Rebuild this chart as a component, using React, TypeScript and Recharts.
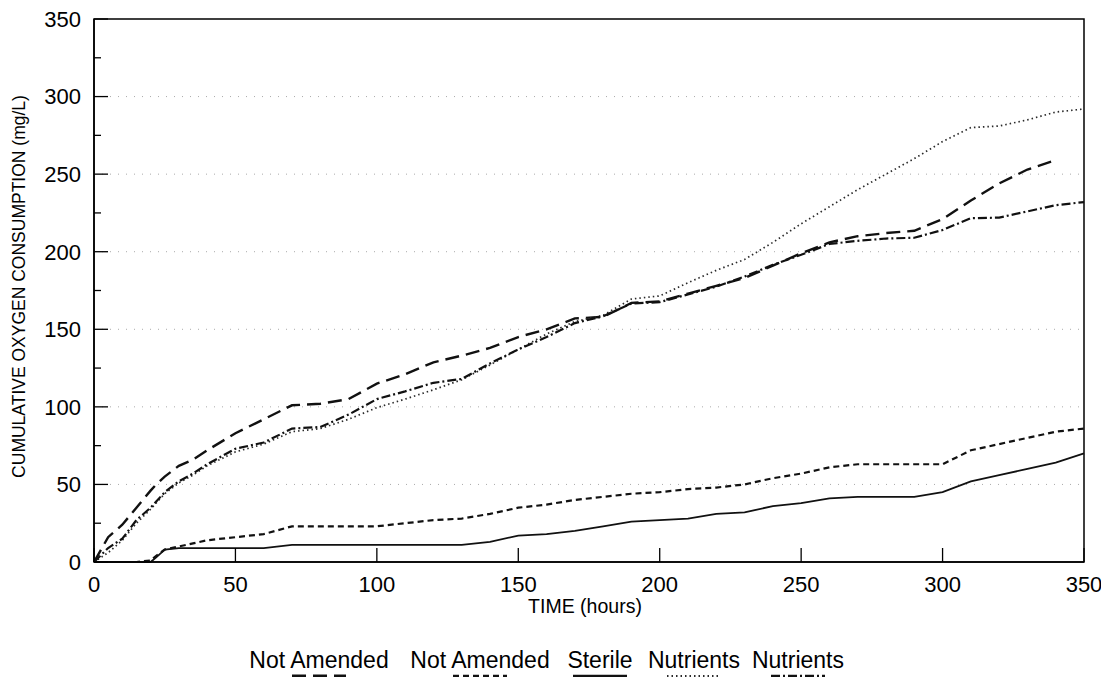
import React from 'react';
import { LineChart, Line, XAxis, YAxis, ReferenceLine, ReferenceArea } from 'recharts';

const times = [0, 5, 10, 15, 20, 22, 25, 30, 35, 40, 50, 60, 70, 80, 90, 100, 110, 120, 130, 140, 150, 160, 170, 180, 190, 200, 210, 220, 230, 240, 250, 260, 270, 280, 290, 300, 310, 320, 330, 340, 350];

const notAmendedA = [0, 16, 24, 35, 46, 50, 55, 62, 66, 72, 83, 92, 101, 102, 105, 115, 121, 128.7, 133, 138, 145, 150, 157, 158, 167, 168, 173, 178, 183, 191, 199, 206, 210, 212, 213.5, 221, 233, 244, 253, 259, null];
const notAmendedB = [0, 0, 0, 0, 1, 4, 8, 10, 12, 14, 16, 18, 23, 23, 23, 23, 25, 27, 28, 31, 35, 37, 40, 42, 44, 45, 47, 48, 50, 54, 57, 61, 63, 63, 63, 63, 72, 76, 80, 84, 86];
const sterile = [0, 0, 0, 0, 0, 3, 8, 9, 9, 9, 9, 9, 11, 11, 11, 11, 11, 11, 11, 13, 17, 18, 20, 23, 26, 27, 28, 31, 32, 36, 38, 41, 42, 42, 42, 45, 52, 56, 60, 64, 70];
const nutrientsA = [0, 6, 14, 25, 34, 38, 44, 51, 56, 62, 71, 76, 84, 86, 92, 99.5, 105, 111, 117.5, 127, 137, 147, 155, 159, 169.5, 171.5, 180, 188, 195, 206, 218, 229, 240, 250, 260, 271, 280, 281, 285, 290, 292];
const nutrientsB = [0, 9, 15, 27, 35, 39, 45, 52, 57, 63, 73, 77, 86, 87, 95, 105, 110, 115.5, 118, 128, 137, 145, 154, 158.4, 166.6, 167.5, 172.5, 177.5, 184, 191.5, 198, 205, 207, 208.5, 209, 214, 221.6, 222, 226, 230, 232];

const xTicks = [0, 50, 100, 150, 200, 250, 300, 350];
const yTicks = [0, 25, 50, 75, 100, 125, 150, 175, 200, 225, 250, 275, 300, 325, 350];
const gridValues = [50, 100, 150, 200, 250, 300];

const legendLabels = ['Not Amended', 'Not Amended', 'Sterile', 'Nutrients', 'Nutrients'];

const data = times.map((t, i) => ({
  t,
  na1: notAmendedA[i],
  na2: notAmendedB[i],
  st: sterile[i],
  nu1: nutrientsA[i],
  nu2: nutrientsB[i],
}));

const FONT = '"Liberation Sans", Arial, Helvetica, sans-serif';

const styles = [
  { key: 'na1', dash: '14 7', width: 2.4, color: '#111' },
  { key: 'na2', dash: '6 4', width: 2.2, color: '#111' },
  { key: 'st', dash: undefined as string | undefined, width: 1.8, color: '#111' },
  { key: 'nu1', dash: '1.5 3', width: 1.7, color: '#2a2a2a' },
  { key: 'nu2', dash: '9 3 2 3', width: 2.2, color: '#111' },
];

const XTick = (props: any) => {
  const { x, y, payload } = props;
  return (
    <g>
      <line x1={x} x2={x} y1={y} y2={y - 14} stroke="#000" strokeWidth={1.3} />
      <text x={x} y={y + 14} dy="0.72em" textAnchor="middle" fontSize={22} fontFamily={FONT} fill="#000">
        {payload.value}
      </text>
    </g>
  );
};

const YTick = (props: any) => {
  const { x, y, payload } = props;
  const major = payload.value % 50 === 0;
  return (
    <g>
      <line x1={x} x2={x + (major ? 14 : 7)} y1={y} y2={y} stroke="#000" strokeWidth={1.3} />
      {major && (
        <text x={x - 13} y={y} dy="0.36em" textAnchor="end" fontSize={22} fontFamily={FONT} fill="#000">
          {payload.value}
        </text>
      )}
    </g>
  );
};

const YTitle = (props: any) => {
  const vb = props.viewBox || { x: 0, y: 11, width: 86, height: 543 };
  const cx = 11;
  const cy = vb.y + vb.height / 2 - 4;
  return (
    <text
      x={cx}
      y={cy}
      transform={`rotate(-90, ${cx}, ${cy})`}
      textAnchor="middle"
      dominantBaseline="central"
      fontSize={17.5}
      fontFamily={FONT}
      fill="#000"
    >
      CUMULATIVE OXYGEN CONSUMPTION (mg/L)
    </text>
  );
};

const XTitle = (props: any) => {
  const vb = props.viewBox || { x: 86, y: 554, width: 990, height: 66 };
  return (
    <text
      x={vb.x + vb.width / 2 - 4}
      y={vb.y + 51}
      textAnchor="middle"
      fontSize={19.5}
      fontFamily={FONT}
      fill="#000"
    >
      TIME (hours)
    </text>
  );
};

const legendCenters = [311, 472, 592, 686, 790];

export default function App() {
  return (
    <div style={{ position: 'relative', width: 1100, height: 669, overflow: 'hidden', background: '#fff' }}>
      <LineChart width={1100} height={620} data={data} margin={{ top: 11, right: 24, left: 0, bottom: 0 }}>
        {gridValues.map((v) => (
          <ReferenceLine key={v} y={v} stroke="#aaa" strokeWidth={1} strokeDasharray="1 7" />
        ))}
        <XAxis
          dataKey="t"
          type="number"
          domain={[0, 350]}
          ticks={xTicks}
          interval={0}
          height={66}
          tickSize={0}
          tickMargin={0}
          tickLine={false}
          axisLine={{ stroke: '#000', strokeWidth: 1.5 }}
          tick={<XTick />}
          label={<XTitle />}
        />
        <YAxis
          type="number"
          domain={[0, 350]}
          ticks={yTicks}
          interval={0}
          width={86}
          tickSize={0}
          tickMargin={0}
          tickLine={false}
          axisLine={{ stroke: '#000', strokeWidth: 1.5 }}
          tick={<YTick />}
          label={<YTitle />}
        />
        <ReferenceArea x1={0} x2={350} y1={0} y2={350} fill="none" stroke="#000" strokeWidth={1.5} />
        {styles.map((s) => (
          <Line
            key={s.key}
            dataKey={s.key}
            type="linear"
            stroke={s.color}
            strokeWidth={s.width}
            strokeDasharray={s.dash}
            dot={false}
            activeDot={false}
            connectNulls={false}
            isAnimationActive={false}
          />
        ))}
      </LineChart>
      <svg width={1100} height={49} style={{ position: 'absolute', left: 0, top: 620 }}>
        {legendLabels.map((lab, i) => (
          <g key={i}>
            <text x={legendCenters[i]} y={40} textAnchor="middle" fontSize={23} fontFamily={FONT} fill="#000">
              {lab}
            </text>
            <line
              x1={legendCenters[i] - 27}
              x2={legendCenters[i] + 27}
              y1={48}
              y2={48}
              stroke={styles[i].color}
              strokeWidth={styles[i].width + 0.5}
              strokeDasharray={styles[i].dash}
            />
          </g>
        ))}
      </svg>
    </div>
  );
}
